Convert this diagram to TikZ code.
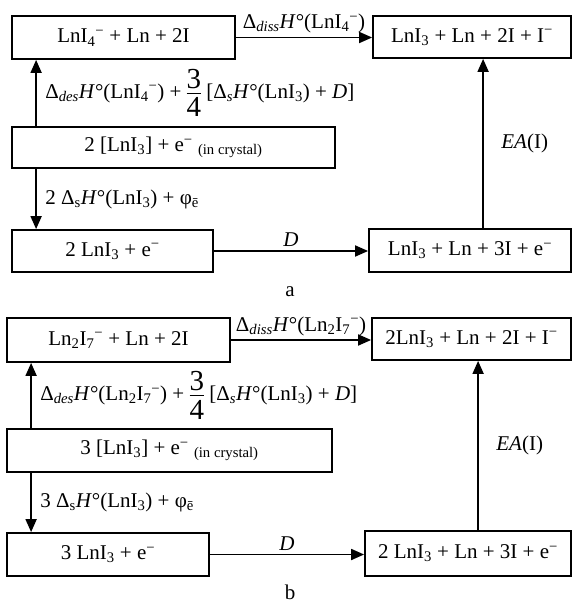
\documentclass[tikz,border=0pt]{standalone}
\usepackage{fontspec}
\setmainfont{Liberation Serif}
\usetikzlibrary{arrows.meta}
\newcommand{\mns}{\textsuperscript{−}}
\newcommand{\qfrac}{$\vcenter{\fontsize{29}{29}\selectfont\hbox{3}\kern4pt\hrule height 1.3pt\kern4pt\hbox{4}}$}
\begin{document}
\begin{tikzpicture}[x=1pt, y=-1pt,
  every node/.style={font=\fontsize{21}{25}\selectfont},
  level/.style={draw, line width=1.8pt, inner sep=0pt},
  arr/.style={line width=1.8pt, -{Triangle[length=13pt, width=11pt]}}]
\useasboundingbox (0,0) rectangle (572,605);
% a
\node[level, minimum width=223pt, minimum height=43pt] (a1) at (123.5,37.5) {LnI\textsubscript{4}\mns{} + Ln + 2I};
\node[level, minimum width=198pt, minimum height=42pt] (a2) at (472,37) {LnI\textsubscript{3} + Ln + 2I + I\mns};
\node[level, minimum width=323pt, minimum height=41pt] (a3) at (173.5,147.5) {2 [LnI\textsubscript{3}] + e\mns\ \textsubscript{(in crystal)}};
\node[level, minimum width=201pt, minimum height=42pt] (a4) at (112.5,251) {2 LnI\textsubscript{3} + e\mns};
\node[level, minimum width=202pt, minimum height=43pt] (a5) at (470,250.5) {LnI\textsubscript{3} + Ln + 3I + e\mns};
\node (capa) at (290,292) {a};
\draw[arr] (a1.east) -- (a1.east -| a2.west)
  node[midway, above] {Δ\textsubscript{\textit{diss}}\textit{H}°(LnI\textsubscript{4}\mns)};
\draw[arr] ([xshift=25pt]a3.north west) -- ([xshift=25pt]a1.south west)
  node[midway, right, xshift=5pt] {Δ\textsubscript{\textit{des}}\textit{H}°(LnI\textsubscript{4}\mns) + \qfrac\ [Δ\textsubscript{\textit{s}}\textit{H}°(LnI\textsubscript{3}) + \textit{D}]};
\draw[arr] ([xshift=25pt]a3.south west) -- ([xshift=25pt]a4.north west)
  node[midway, right, xshift=5pt] {2 Δ\textsubscript{s}\textit{H}°(LnI\textsubscript{3}) + φ\textsubscript{ē}};
\draw[arr] (a4.east) -- (a4.east -| a5.west)
  node[midway, above] {\textit{D}};
\draw[arr] ([xshift=115pt]a5.north west) -- ([xshift=115pt]a5.north west |- a2.south)
  node[midway, right, xshift=14pt] {\textit{EA}(I)};
% b
\node[level, minimum width=223pt, minimum height=44pt] (b1) at (118.5,340) {Ln\textsubscript{2}I\textsubscript{7}\mns{} + Ln + 2I};
\node[level, minimum width=199pt, minimum height=42pt] (b2) at (471.5,339) {2LnI\textsubscript{3} + Ln + 2I + I\mns};
\node[level, minimum width=325pt, minimum height=43pt] (b3) at (169.5,450.5) {3 [LnI\textsubscript{3}] + e\mns\ \textsubscript{(in crystal)}};
\node[level, minimum width=202pt, minimum height=43pt] (b4) at (108,554.5) {3 LnI\textsubscript{3} + e\mns};
\node[level, minimum width=206pt, minimum height=45pt] (b5) at (468,553.5) {2 LnI\textsubscript{3} + Ln + 3I + e\mns};
\node (capb) at (290,592) {b};
\draw[arr] (b1.east) -- (b1.east -| b2.west)
  node[midway, above] {Δ\textsubscript{\textit{diss}}\textit{H}°(Ln\textsubscript{2}I\textsubscript{7}\mns)};
\draw[arr] ([xshift=25pt]b3.north west) -- ([xshift=25pt]b1.south west)
  node[midway, right, xshift=5pt] {Δ\textsubscript{\textit{des}}\textit{H}°(Ln\textsubscript{2}I\textsubscript{7}\mns) + \qfrac\ [Δ\textsubscript{\textit{s}}\textit{H}°(LnI\textsubscript{3}) + \textit{D}]};
\draw[arr] ([xshift=25pt]b3.south west) -- ([xshift=25pt]b4.north west)
  node[midway, right, xshift=5pt] {3 Δ\textsubscript{s}\textit{H}°(LnI\textsubscript{3}) + φ\textsubscript{ē}};
\draw[arr] (b4.east) -- (b4.east -| b5.west)
  node[midway, above] {\textit{D}};
\draw[arr] ([xshift=114pt]b5.north west) -- ([xshift=114pt]b5.north west |- b2.south)
  node[midway, right, xshift=14pt] {\textit{EA}(I)};
\end{tikzpicture}
\end{document}
